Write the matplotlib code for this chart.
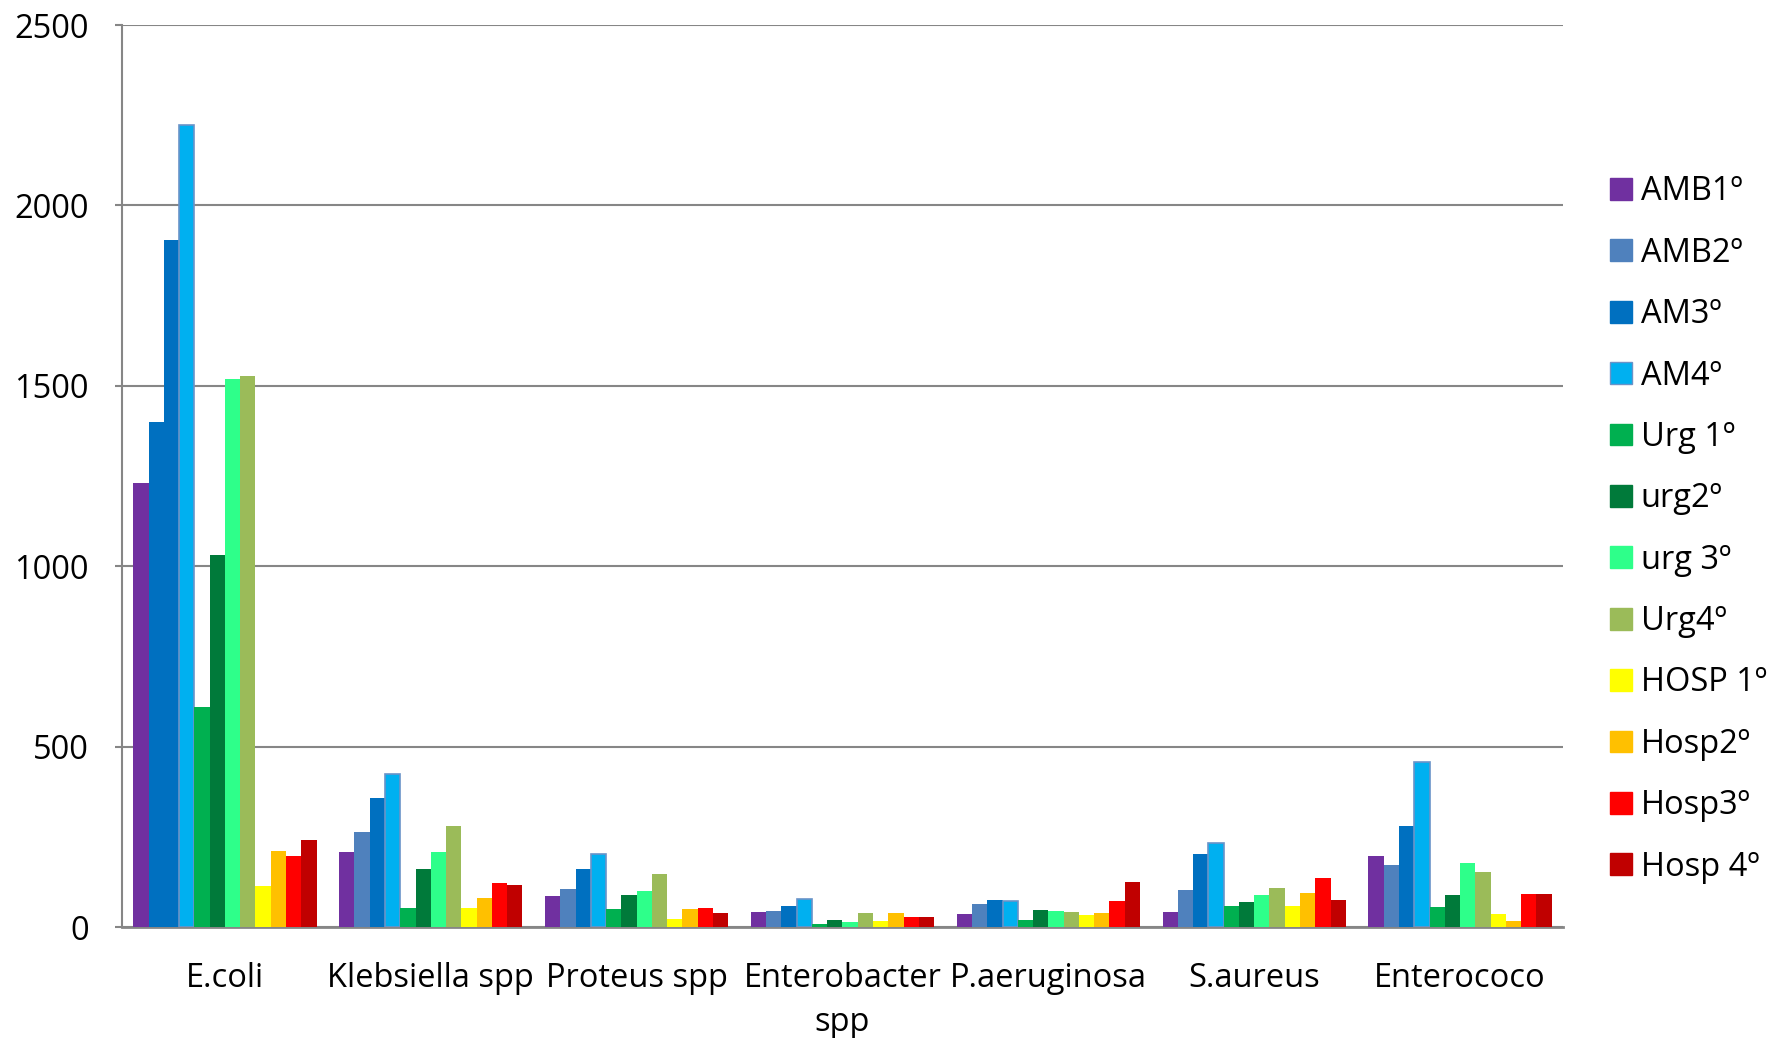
import matplotlib
matplotlib.use("Agg")
import matplotlib.pyplot as plt
import numpy as np
from matplotlib.patches import Patch

categories = ["E.coli", "Klebsiella spp", "Proteus spp", "Enterobacter\nspp",
              "P.aeruginosa", "S.aureus", "Enterococo"]
series = ["AMB1º", "AMB2º", "AM3º", "AM4º", "Urg 1º", "urg2º", "urg 3º",
          "Urg4º", "HOSP 1º", "Hosp2º", "Hosp3º", "Hosp 4º"]

amb1 = [1230, 209, 86, 42, 36, 41, 196]
amb2 = [1400, 263, 105, 43, 63, 102, 171]
am3 = [1903, 357, 161, 58, 76, 201, 280]
am4 = [2222, 423, 202, 78, 71, 234, 456]
urg1 = [611, 53, 49, 9, 19, 58, 55]
urg2 = [1031, 160, 90, 19, 48, 69, 90]
urg3 = [1520, 209, 101, 14, 43, 89, 176]
urg4 = [1527, 279, 148, 40, 41, 107, 152]
hosp1 = [113, 54, 21, 18, 34, 58, 36]
hosp2 = [210, 79, 49, 39, 39, 94, 18]
hosp3 = [196, 123, 52, 29, 73, 137, 91]
hosp4 = [241, 117, 40, 28, 126, 76, 91]

values = [amb1, amb2, am3, am4, urg1, urg2, urg3, urg4, hosp1, hosp2, hosp3, hosp4]
colors = ["#7030A0", "#4F81BD", "#0070C0", "#00B0F0", "#00B050", "#007A3A",
          "#2EFF8A", "#9BBB59", "#FFFF00", "#FFC000", "#FF0000", "#C00000"]

plt.rcParams['font.family'] = ['Open Sans', 'DejaVu Sans']

fig = plt.figure(figsize=(17.70, 10.38), dpi=100)
ax = fig.add_axes([122/1770, 1-927/1038, (1563-122)/1770, (927-25)/1038])

n = len(series)
x = np.arange(len(categories))
group = 0.89
w = group / n
for i, (s, v, c) in enumerate(zip(series, values, colors)):
    pos = x - group/2 + w*(i+0.5)
    bar_colors = [c]*len(v)
    if i == 1:
        bar_colors[0] = "#0070C0"  # E.coli AMB2 drawn in dark blue in the reference
    ec = "#6A93C8" if i == 3 else "none"
    ax.bar(pos, v, width=w, color=bar_colors, edgecolor=ec,
           linewidth=1.2 if i == 3 else 0, zorder=3)

ax.set_xlim(-0.5, len(categories)-0.5)
ax.set_ylim(0, 2500)
ax.set_yticks(np.arange(0, 2501, 500))
ax.yaxis.grid(True, color="#868686", linewidth=1.5, zorder=0)
ax.set_axisbelow(True)
for sp in ["top", "right"]:
    ax.spines[sp].set_visible(False)
ax.spines["left"].set_color("#868686")
ax.spines["left"].set_linewidth(1.5)
ax.spines["bottom"].set_color("#868686")
ax.spines["bottom"].set_linewidth(2)
ax.tick_params(axis="y", length=5, color="#868686", width=1.5, labelsize=23.5, pad=19)
ax.tick_params(axis="x", length=0, labelsize=23.5, pad=25)
ax.set_xticks(x)
ax.set_xticklabels(categories, linespacing=1.45, va="top")

handles = [Patch(facecolor=c, edgecolor=("#6A93C8" if i == 3 else c)) for i, c in enumerate(colors)]
fig.legend(handles, series, loc="upper left", bbox_to_anchor=(1594/1770, 1-159/1038),
           frameon=False, fontsize=23.5, handlelength=0.65, handleheight=0.65,
           handletextpad=0.28, labelspacing=0.87, borderpad=0)

fig.savefig("out.png", dpi=100)
